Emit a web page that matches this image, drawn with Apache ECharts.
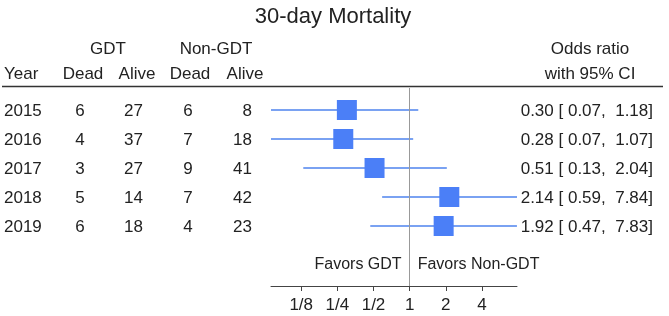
<!DOCTYPE html>
<html>
<head>
<meta charset="utf-8">
<script src="https://cdn.jsdelivr.net/npm/echarts@6/dist/echarts.min.js"></script>
<style>
  html, body { margin: 0; padding: 0; background: #fff; }
  #main { width: 669px; height: 316px; }
</style>
</head>
<body>
<div id="main"></div>
<script>
// table data
var years = ['2015', '2016', '2017', '2018', '2019'];
var gdtDead = [6, 4, 3, 5, 6];
var gdtAlive = [27, 37, 27, 14, 18];
var nonGdtDead = [6, 7, 9, 7, 4];
var nonGdtAlive = [8, 18, 41, 42, 23];
// odds ratios with 95% CI
var orVal = [0.30, 0.28, 0.51, 2.14, 1.92];
var orLow = [0.07, 0.07, 0.13, 0.59, 0.47];
var orHigh = [1.18, 1.07, 2.04, 7.84, 7.83];
var tickVals = [-3, -2, -1, 0, 1, 2]; // log2 of 1/8 .. 4

var FONT = '"Liberation Sans", Arial, sans-serif';
var TXT = '#222';

var chart = echarts.init(document.getElementById('main'));

var xMin = Math.log2(Math.min.apply(null, orLow));
var xMax = Math.log2(Math.max.apply(null, orHigh));

var pad5 = function (v) {
    var s = v.toFixed(2);
    while (s.length < 5) s = ' ' + s;
    return s;
};

var forestData = orVal.map(function (v, i) {
    return [Math.log2(orLow[i]), Math.log2(orHigh[i]), Math.log2(v), i];
});
var tableData = years.map(function (y, i) {
    return [0, i];
});

function txt(x, y, s, align, size) {
    return {
        type: 'text',
        x: x, y: y,
        style: {
            text: s, fill: TXT,
            font: (size || 17) + 'px ' + FONT,
            align: align || 'center',
            verticalAlign: 'middle'
        }
    };
}

var option = {
    animation: false,
    backgroundColor: '#fff',
    grid: { left: 271, right: 152, top: 88, bottom: 30 },
    xAxis: {
        type: 'value',
        position: 'bottom',
        min: xMin,
        max: xMax,
        splitLine: { show: false },
        axisLine: { onZero: false, lineStyle: { color: '#444', width: 1 } },
        axisTick: { customValues: tickVals, length: 5, lineStyle: { color: '#444' } },
        axisLabel: {
            customValues: tickVals,
            margin: 11,
            fontSize: 17,
            fontFamily: FONT,
            color: TXT,
            formatter: function (v) {
                return v < 0 ? '1/' + Math.pow(2, -v) : String(Math.pow(2, v));
            }
        }
    },
    yAxis: {
        type: 'value',
        inverse: true,
        min: -0.7586,
        max: 6.069,
        show: false
    },
    series: [
        {
            type: 'line',
            data: [],
            silent: true,
            markLine: {
                silent: true,
                symbol: 'none',
                label: { show: false },
                lineStyle: { color: '#999', width: 1, type: 'solid' },
                data: [{ xAxis: 0 }]
            }
        },
        {
            type: 'custom',
            clip: false,
            data: forestData,
            encode: { x: [0, 1, 2], y: 3 },
            renderItem: function (params, api) {
                var i = api.value(3);
                var a = api.coord([api.value(0), i]);
                var b = api.coord([api.value(1), i]);
                var c = api.coord([api.value(2), i]);
                return {
                    type: 'group',
                    children: [
                        {
                            type: 'line',
                            shape: { x1: a[0], y1: a[1], x2: b[0], y2: b[1] },
                            style: { stroke: '#7aa2f2', lineWidth: 2 }
                        },
                        {
                            type: 'rect',
                            shape: { x: c[0] - 10, y: c[1] - 10, width: 20, height: 20 },
                            style: { fill: '#4b7ff7' }
                        }
                    ]
                };
            }
        },
        {
            type: 'custom',
            clip: false,
            silent: true,
            data: tableData,
            encode: { y: 1 },
            renderItem: function (params, api) {
                var i = params.dataIndex;
                var y = api.coord([0, api.value(1)])[1] + 1.5;
                var orText = orVal[i].toFixed(2) + ' [' + pad5(orLow[i]) + ', ' + pad5(orHigh[i]) + ']';
                return {
                    type: 'group',
                    children: [
                        txt(4, y, years[i], 'left'),
                        txt(80, y, String(gdtDead[i]), 'center'),
                        txt(143, y, String(gdtAlive[i]), 'right'),
                        txt(188, y, String(nonGdtDead[i]), 'center'),
                        txt(252, y, String(nonGdtAlive[i]), 'right'),
                        txt(653, y, orText, 'right')
                    ]
                };
            }
        }
    ]
};

chart.setOption(option);

var refX = chart.convertToPixel({ xAxisIndex: 0 }, 0);

chart.setOption({
    graphic: [
        txt(333, 17, '30-day Mortality', 'center', 22),
        txt(108, 49, 'GDT'),
        txt(216, 49, 'Non-GDT'),
        txt(590, 49, 'Odds ratio'),
        txt(4, 74, 'Year', 'left'),
        txt(83, 74, 'Dead'),
        txt(137, 74, 'Alive'),
        txt(190, 74, 'Dead'),
        txt(245, 74, 'Alive'),
        txt(590, 74, 'with 95% CI'),
        {
            type: 'line',
            shape: { x1: 2, y1: 86.5, x2: 663, y2: 86.5 },
            style: { stroke: '#333', lineWidth: 1.5 }
        },
        txt(refX - 8, 265, 'Favors GDT', 'right', 16),
        txt(refX + 8, 265, 'Favors Non-GDT', 'left', 16)
    ]
});
</script>
</body>
</html>
